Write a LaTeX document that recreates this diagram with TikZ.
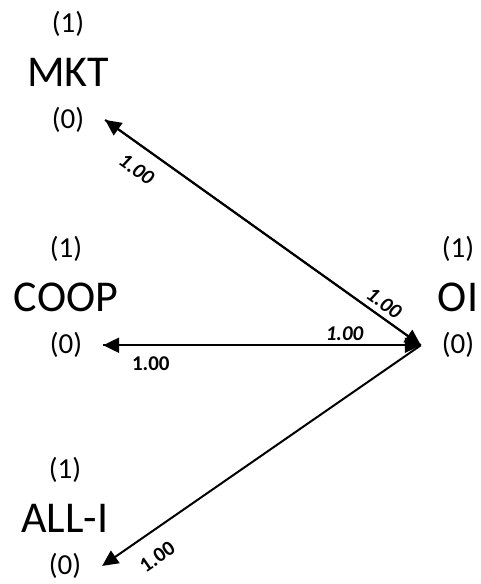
\documentclass[tikz,border=0pt]{standalone}
\usepackage{fontspec}
\setmainfont{Carlito}
\usetikzlibrary{positioning,arrows.meta}
\tikzset{
  var-node/.style={font=\fontsize{44}{48}\selectfont, inner sep=0pt},
  level-node/.style={font=\fontsize{29}{32}\selectfont, inner sep=0pt, outer ysep=0pt},
  low-node/.style={level-node, outer xsep=21pt},
  link-arrow/.style={line width=2pt},
  to-head/.style={-{Triangle[length=16pt,width=15pt]}},
  from-head/.style={{Triangle[length=16pt,width=15pt]}-},
  coef-label/.style={font=\fontsize{21}{23}\selectfont\bfseries, sloped},
  coef-italic/.style={font=\fontsize{21}{23}\selectfont\bfseries\itshape, sloped}
}
\begin{document}
\begin{tikzpicture}[x=1pt, y=1pt, node distance=21pt]
\useasboundingbox (0,0) rectangle (481,-584);

% Variables with their levels
\node[var-node] (mkt) at (68,-72) {MKT};
\node[level-node, above=of mkt] (mkt-hi) {(1)};
\node[low-node, below=of mkt] (mkt-lo) {(0)};

\node[var-node] (coop) at (66,-297) {COOP};
\node[level-node, above=of coop] (coop-hi) {(1)};
\node[low-node, below=of coop] (coop-lo) {(0)};

\node[var-node] (alli) at (65,-518) {ALL-I};
\node[level-node, above=of alli] (alli-hi) {(1)};
\node[low-node, below=of alli] (alli-lo) {(0)};

\node[var-node] (oi) at (458,-297) {OI};
\node[level-node, above=of oi] (oi-hi) {(1)};
\node[low-node, below=of oi] (oi-lo) {(0)};

% Links
\draw[link-arrow, from-head] (mkt-lo.east) -- node[coef-italic, below, inner sep=14pt, pos=0.14] (c-mkt-a) {1.00} (oi-lo.west);
\draw[link-arrow, to-head] (mkt-lo.east) -- node[coef-italic, above, inner sep=5pt, pos=0.86] (c-mkt-b) {1.00} (oi-lo.west);

\draw[link-arrow, from-head] (coop-lo.east) -- node[coef-label, below, inner sep=10pt, pos=0.15] (c-coop-a) {1.00} (oi-lo.west);
\draw[link-arrow, to-head] (coop-lo.east) -- node[coef-italic, above, inner sep=4pt, pos=0.76] (c-coop-b) {1.00} (oi-lo.west);

\draw[link-arrow, from-head] (alli-lo.east) -- node[coef-label, below, inner sep=16pt, pos=0.13] (c-alli) {1.00} (oi-lo.west);
\end{tikzpicture}
\end{document}
